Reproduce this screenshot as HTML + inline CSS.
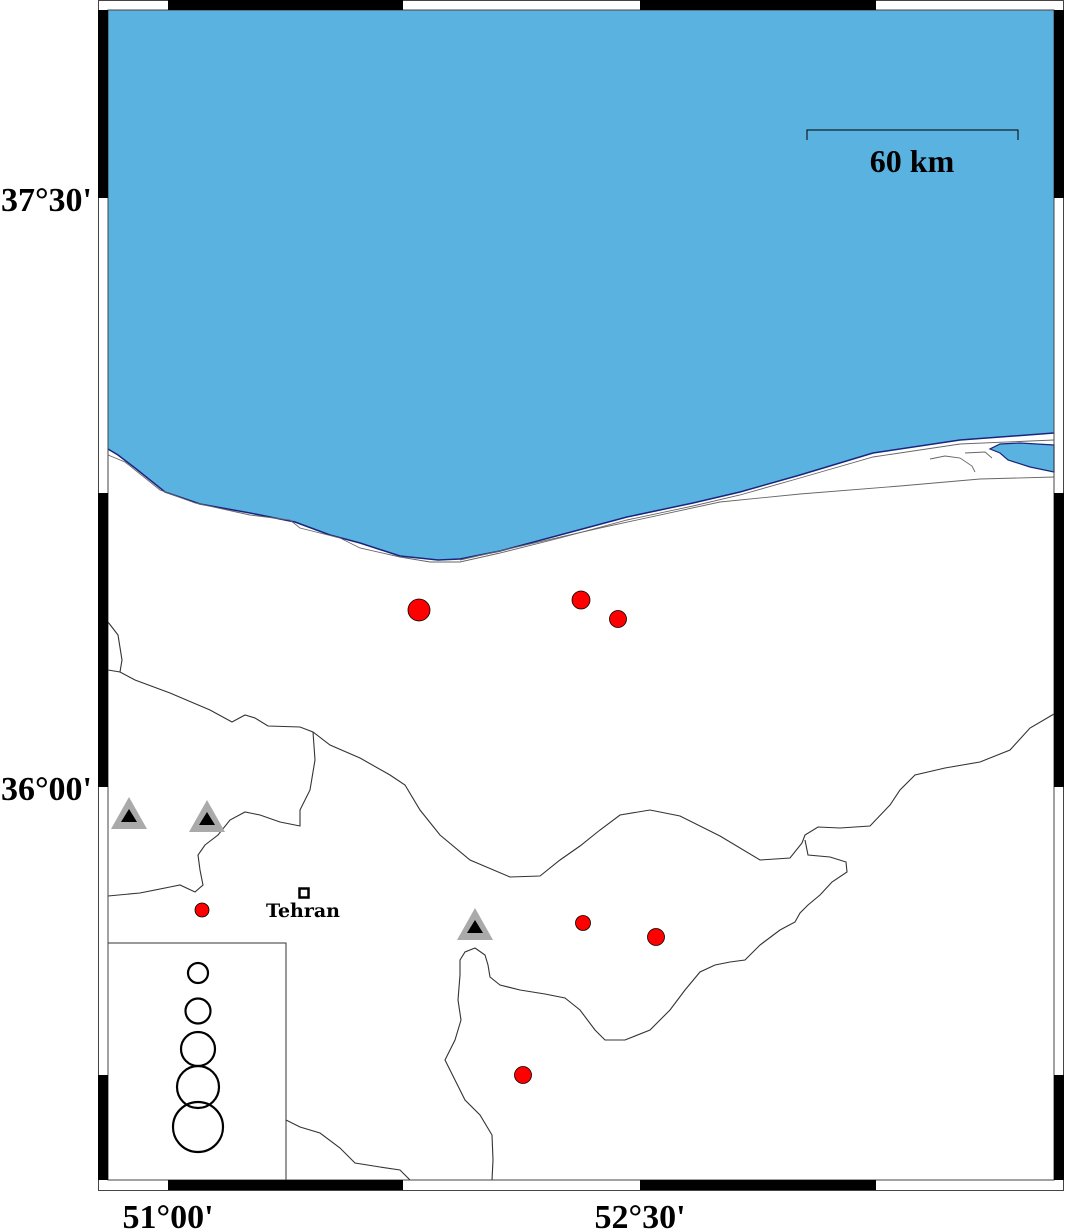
<!DOCTYPE html>
<html><head><meta charset="utf-8"><style>
html,body{margin:0;padding:0;background:#fff;}
svg{display:block;}
</style></head><body>
<svg width="1066" height="1229" viewBox="0 0 1066 1229" xmlns="http://www.w3.org/2000/svg">
<rect width="1066" height="1229" fill="#fff"/>
<!-- sea -->
<path d="M108,10 H1054 V433 L960,440 L873,453 L800,475 L740,492 L693,503 L627,517 L560,535 L500,551 L460,559 L438,560 L400,556 L360,543 L330,535 L295,522 L250,513 L200,504 L165,492 L135,468 L118,455 L108,449 Z" fill="#5ab2e0"/>
<path d="M1054,433 L960,440 L873,453 L800,475 L740,492 L693,503 L627,517 L560,535 L500,551 L460,559 L438,560 L400,556 L360,543 L330,535 L295,522 L250,513 L200,504 L165,492 L135,468 L118,455 L108,449" fill="none" stroke="#1a237e" stroke-width="1.5"/>
<!-- bay -->
<path d="M1054,445 L1020,443 L1000,444 L990,449 L1000,453 L1008,460 L1030,467 L1054,472 Z" fill="#5ab2e0" stroke="#1a237e" stroke-width="1.2"/>
<!-- inner coast lines -->
<g fill="none" stroke="#666" stroke-width="0.9">
<path d="M108,455 L125,462 L160,490 L195,503 L250,515 L290,520 L300,528 L340,538 L360,548 L400,557 L430,562 L460,562 L500,553 L560,538 L627,520 L693,506 L740,495 L800,478 L873,457 L960,444 L1054,440"/>
<path d="M460,560 L600,528 L720,502 L800,494 L900,486 L980,479 L1054,477"/>
<path d="M930,459 L945,456 L960,458 L972,466 L975,472"/>
<path d="M965,453 L985,452 L992,458"/>
</g>
<!-- borders -->
<g fill="none" stroke="#333" stroke-width="1.1">
<path d="M108,622 L118,635 L122,660 L120,672"/>
<path d="M108,670 L120,672 L135,680 L170,693 L210,710 L232,722 L245,715 L255,718 L268,726 L300,727 L313,732 L330,745 L360,758 L390,775 L405,785 L420,810 L440,835 L470,860 L510,877 L540,876 L560,860 L580,846 L600,830 L620,815 L650,810 L680,816 L720,836 L760,860 L790,858 L802,843 L805,835 L818,827 L840,828 L870,826 L890,805 L900,790 L915,775 L945,768 L980,762 L1010,750 L1030,728 L1054,714"/>
<path d="M805,840 L808,855 L830,857 L846,862 L847,872 L832,882 L820,895 L808,905 L800,913 L795,922 L780,930 L760,945 L745,960 L730,962 L715,965 L700,972 L685,990 L670,1010 L650,1030 L625,1040 L605,1040 L595,1030 L580,1010 L565,998 L545,994 L520,990 L500,985 L490,977 L488,965 L485,955 L475,948 L465,952 L460,960 L460,975 L458,1000 L461,1020 L455,1040 L445,1060 L455,1080 L465,1100 L480,1115 L492,1135 L493,1160 L492,1180"/>
<path d="M313,732 L315,760 L310,790 L300,810 L300,826 L280,822 L260,815 L245,812 L230,820 L218,835 L205,845 L198,855 L200,870 L203,885 L195,892 L180,885 L170,887 L140,893 L108,896"/>
<path d="M286,1120 L300,1127 L320,1133 L340,1148 L355,1163 L380,1167 L400,1170 L410,1180"/>
</g>
<!-- legend -->
<rect x="108" y="943" width="178" height="237" fill="#fff" stroke="#333" stroke-width="1"/>
<g fill="none" stroke="#000" stroke-width="2.2">
<circle cx="198" cy="973" r="10"/>
<circle cx="198" cy="1011" r="12.5"/>
<circle cx="198" cy="1049" r="17"/>
<circle cx="198" cy="1087" r="21"/>
<circle cx="198" cy="1127" r="25"/>
</g>
<!-- quakes -->
<g fill="#ff0000" stroke="#000" stroke-width="0.8">
<circle cx="419" cy="610" r="11"/>
<circle cx="581" cy="600" r="9"/>
<circle cx="618" cy="619" r="8.5"/>
<circle cx="202" cy="910" r="7"/>
<circle cx="583" cy="923" r="7.5"/>
<circle cx="656" cy="937" r="8.5"/>
<circle cx="523" cy="1075" r="8.5"/>
</g>
<!-- stations -->
<g>
<polygon points="129,797 147,829 111,829" fill="#aaa"/><polygon points="129,809 137,822 121,822" fill="#000"/>
<polygon points="207,800 225,832 189,832" fill="#aaa"/><polygon points="207,812 215,825 199,825" fill="#000"/>
<polygon points="475,908 493,940 457,940" fill="#aaa"/><polygon points="475,920 483,933 467,933" fill="#000"/>
</g>
<!-- Tehran -->
<rect x="299.5" y="888.5" width="9" height="9" fill="#fff" stroke="#000" stroke-width="2.5"/>
<text x="303" y="917" font-family="DejaVu Serif, serif" font-weight="bold" font-size="19" text-anchor="middle">Tehran</text>
<!-- scale bar -->
<path d="M807,140 V130 H1018 V140" fill="none" stroke="#000" stroke-width="1"/>
<text x="912" y="172" font-family="Liberation Serif, serif" font-weight="bold" font-size="32" text-anchor="middle">60 km</text>
<!-- frame -->
<rect x="98.5" y="0.5" width="965" height="1190" fill="none" stroke="#444" stroke-width="1"/>
<rect x="108" y="10" width="946" height="1170" fill="none" stroke="#444" stroke-width="1"/>
<g fill="#000">
<rect x="168" y="0" width="235" height="10"/><rect x="640" y="0" width="236" height="10"/>
<rect x="168" y="1180" width="235" height="10"/><rect x="640" y="1180" width="236" height="10"/>
<rect x="98" y="10" width="10" height="188"/><rect x="98" y="493" width="10" height="294"/><rect x="98" y="1075" width="10" height="105"/>
<rect x="1054" y="10" width="10" height="188"/><rect x="1054" y="493" width="10" height="294"/><rect x="1054" y="1075" width="10" height="105"/>
</g>
<g font-family="Liberation Serif, serif" font-weight="bold" font-size="34">
<text x="92" y="211" text-anchor="end">37°30'</text>
<text x="92" y="800" text-anchor="end">36°00'</text>
<text x="168" y="1228" text-anchor="middle">51°00'</text>
<text x="640" y="1228" text-anchor="middle">52°30'</text>
</g>
</svg>
</body></html>
